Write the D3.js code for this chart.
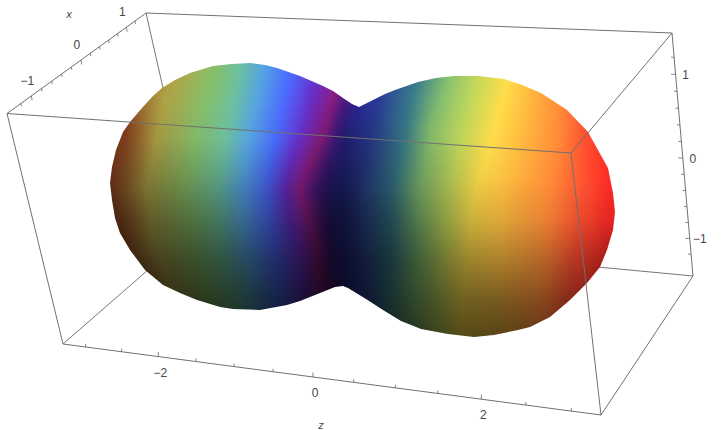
<!DOCTYPE html>
<html><head><meta charset="utf-8">
<style>html,body{margin:0;padding:0;background:#fff}svg{display:block}text{font-family:"Liberation Sans",Arial,sans-serif;font-size:12px;fill:#444}</style>
<script src="https://cdn.jsdelivr.net/npm/d3@7"></script></head><body>
<script>
const xTicks = [-1.2,-1,-0.8,-0.6,-0.4,-0.2,0,0.2,0.4,0.6,0.8,1,1.2];
const yTicks = [-1.2,-1,-0.8,-0.6,-0.4,-0.2,0,0.2,0.4,0.6,0.8,1,1.2];
const zTicks = [-3,-2.5,-2,-1.5,-1,-0.5,0,0.5,1,1.5,2,2.5,3];
const xLabels = [-1,0,1], yLabels = [-1,0,1], zLabels = [-2,0,2];
const corners = {A:[7,113.5],B:[146,13],C:[672,33],D:[571,153],E:[63,344],F:[601,415],G:[693,276],H:[195,229]};
const surfaceOutline = [[110,183],[112,167],[116,150],[123,132],[130,122],[142,108],[153,96],[162,88],[175,80],[190,73],[213,66],[232,64],[250,63],[265,65],[277,68],[300,76],[323,86],[333,91],[343,98],[352,104],[359,107],[371,101],[385,94],[395,90],[418,82],[436,78],[454,76],[478,76],[504,79],[522,85],[541,93],[567,110],[588,132],[598,150],[608,168],[613,193],[615,212],[613,230],[607,250],[600,267],[587,283],[570,300],[550,317],[530,327],[518,330],[494,335],[474,337],[448,334],[421,329],[401,321],[383,310],[366,299],[348,288],[343,286],[335,287],[320,293],[300,301],[287,305],[260,310],[233,309],[220,307],[197,300],[180,293],[163,285],[145,270],[130,250],[120,233],[115,218],[112,200]];
const hueColors = ["#a04822","#b5a848","#86bf6a","#6cc0a0","#55a5e0","#4b6cff","#6a30d0","#9a2090","#5020a0","#3030b0","#2f45a8","#3a8090","#85c070","#c5d85a","#ffdd4a","#ffbe40","#ff8a38","#ff5030","#ff2a25"];
const bandRows = [70,130,190,250,310];
const bandsAtRow70  = [115,175,215,240,262,290,320,345,360,368,385,420,450,480,510,530,560,590,620];
const bandsAtRow130 = [125,158,197,228,250,278,303,325,338,350,372,405,430,465,495,520,560,585,610];
const bandsAtRow190 = [110,145,188,218,240,266,284,300,320,335,355,393,420,450,476,505,550,585,610];
const bandsAtRow250 = [122,155,195,222,245,272,298,317,330,340,357,390,420,443,468,500,545,575,606];
const bandsAtRow310 = [150,175,215,240,258,285,305,325,340,350,365,385,415,440,460,500,540,565,600];
const shadeCols = [110,150,200,250,300,330,345,365,400,450,500,550,590,615];
const shadeRows = [60,100,140,180,220,260,300,340];
const shade60  = [.9,.95,1,1,1,.95,.92,.92,.95,1,1,1,1,1];
const shade100 = [.8,.95,1,1,1,.9,.82,.85,.95,1,1,1,1,1];
const shade140 = [.7,.88,.97,1,.95,.75,.62,.72,.88,.98,1,1,1,1];
const shade180 = [.6,.72,.8,.84,.78,.48,.46,.62,.78,.87,.98,1,1,1];
const shade220 = [.45,.54,.6,.64,.58,.32,.34,.47,.6,.74,.87,.92,.92,.88];
const shade260 = [.32,.38,.42,.44,.4,.25,.27,.35,.44,.56,.68,.72,.7,.62];
const shade300 = [.25,.27,.3,.3,.26,.2,.24,.3,.35,.42,.47,.54,.5,.45];
const shade340 = [.2,.22,.24,.24,.2,.16,.18,.2,.25,.32,.34,.38,.4,.4];

const W=722,H=430,CELL=2;
const svg=d3.select("body").append("svg").attr("width",W).attr("height",H);
const lerp=(p,q,t)=>[p[0]+(q[0]-p[0])*t,p[1]+(q[1]-p[1])*t];
const edgeScale=(lo,hi,k,p,q)=>{const s=d3.scaleLinear().domain([lo,hi]).range([0,1]);
  return v=>{const a=s(v);return lerp(p,q,a/(a+k*(1-a)));};};
const C=corners;
const xPos=edgeScale(-1.46,1.46,.88,C.A,C.B);
const yPos=edgeScale(1.48,-1.48,.945,C.C,C.G);
const zPos=edgeScale(-3.32,3.32,1.152,C.E,C.F);
const edge=(g,a,b,col)=>g.append("line").attr("x1",C[a][0]).attr("y1",C[a][1]).attr("x2",C[b][0]).attr("y2",C[b][1]).attr("stroke",col||"#707070").attr("stroke-width",1);
const back=svg.append("g");
[["B","H"],["E","H"],["H","G"]].forEach(e=>edge(back,e[0],e[1],"#777"));

const rowBands=[bandsAtRow70,bandsAtRow130,bandsAtRow190,bandsAtRow250,bandsAtRow310];
const idx=d3.range(hueColors.length);
const uScales=rowBands.map(b=>d3.scaleLinear().domain(b).range(idx).clamp(true));
const rowT=d3.scaleLinear().domain(bandRows).range(d3.range(bandRows.length)).clamp(true);
const hue=d3.scaleLinear().domain(idx).range(hueColors).interpolate(d3.interpolateRgb);
const shadeGrid=[shade60,shade100,shade140,shade180,shade220,shade260,shade300,shade340];
const colT=d3.scaleLinear().domain(shadeCols).range(d3.range(shadeCols.length)).clamp(true);
const shRowT=d3.scaleLinear().domain(shadeRows).range(d3.range(shadeRows.length)).clamp(true);
function shadeAt(x,y){const c=colT(x),r=shRowT(y),c0=Math.min(Math.floor(c),shadeCols.length-2),r0=Math.min(Math.floor(r),shadeRows.length-2),a=c-c0,b=r-r0;
  const g=shadeGrid;return (g[r0][c0]*(1-a)+g[r0][c0+1]*a)*(1-b)+(g[r0+1][c0]*(1-a)+g[r0+1][c0+1]*a)*b;}
function colorAt(x,y){const t=rowT(y),i=Math.min(Math.floor(t),bandRows.length-2),f=t-i;
  const u=uScales[i](x)*(1-f)+uScales[i+1](x)*f;
  const c=d3.rgb(hue(u)),s=shadeAt(x,y);return d3.rgb(c.r*s,c.g*s,c.b*s).formatHex();}
const cells=[];
for(let y=58;y<342;y+=CELL)for(let x=104;x<620;x+=CELL){
  const pts=[[x-2,y-2],[x+4,y-2],[x-2,y+4],[x+4,y+4]];
  if(pts.some(p=>d3.polygonContains(surfaceOutline,p)))cells.push([x,y]);}
const cp=svg.append("defs").append("clipPath").attr("id","surf");
cp.append("path").attr("d",d3.line()(surfaceOutline)+"Z");
svg.append("g").attr("clip-path","url(#surf)").attr("shape-rendering","crispEdges").selectAll("rect").data(cells).join("rect")
  .attr("x",d=>d[0]).attr("y",d=>d[1]).attr("width",CELL).attr("height",CELL).attr("fill",d=>colorAt(d[0]+1,d[1]+1));

const front=svg.append("g");
[["A","B"],["B","C"],["C","D"],["A","D"],["A","E"],["D","F"],["E","F"],["F","G"],["C","G"]].forEach(e=>edge(front,e[0],e[1]));
const tick=(ticks,labels,pos,dx,dy)=>ticks.forEach(v=>{const p=pos(v),m=labels.includes(v)?1.5:1;
  front.append("line").attr("x1",p[0]).attr("y1",p[1]).attr("x2",p[0]+dx*m).attr("y2",p[1]+dy*m).attr("stroke","#666").attr("stroke-width",.8);});
tick(xTicks,xLabels,xPos,.5,3);
tick(yTicks,yLabels,yPos,-3,0);
tick(zTicks,zLabels,zPos,0,-3);
const fmt=v=>String(v).replace("-","\u2212");
const txt=svg.append("g").attr("opacity",.99);
const label=(vals,pos,dx,dy)=>vals.forEach(v=>{const p=pos(v);
  txt.append("text").attr("x",p[0]+dx).attr("y",p[1]+dy).attr("text-anchor","middle").text(fmt(v));});
label(xLabels,xPos,-4,-11);
label(yLabels,yPos,10,5);
label(zLabels,zPos,2,20);
txt.append("text").attr("x",69).attr("y",18).attr("text-anchor","middle").attr("font-style","italic").style("font-size","11px").text("x");
txt.append("text").attr("x",321).attr("y",429).attr("text-anchor","middle").attr("font-style","italic").style("font-size","11px").text("z");
</script></body></html>
